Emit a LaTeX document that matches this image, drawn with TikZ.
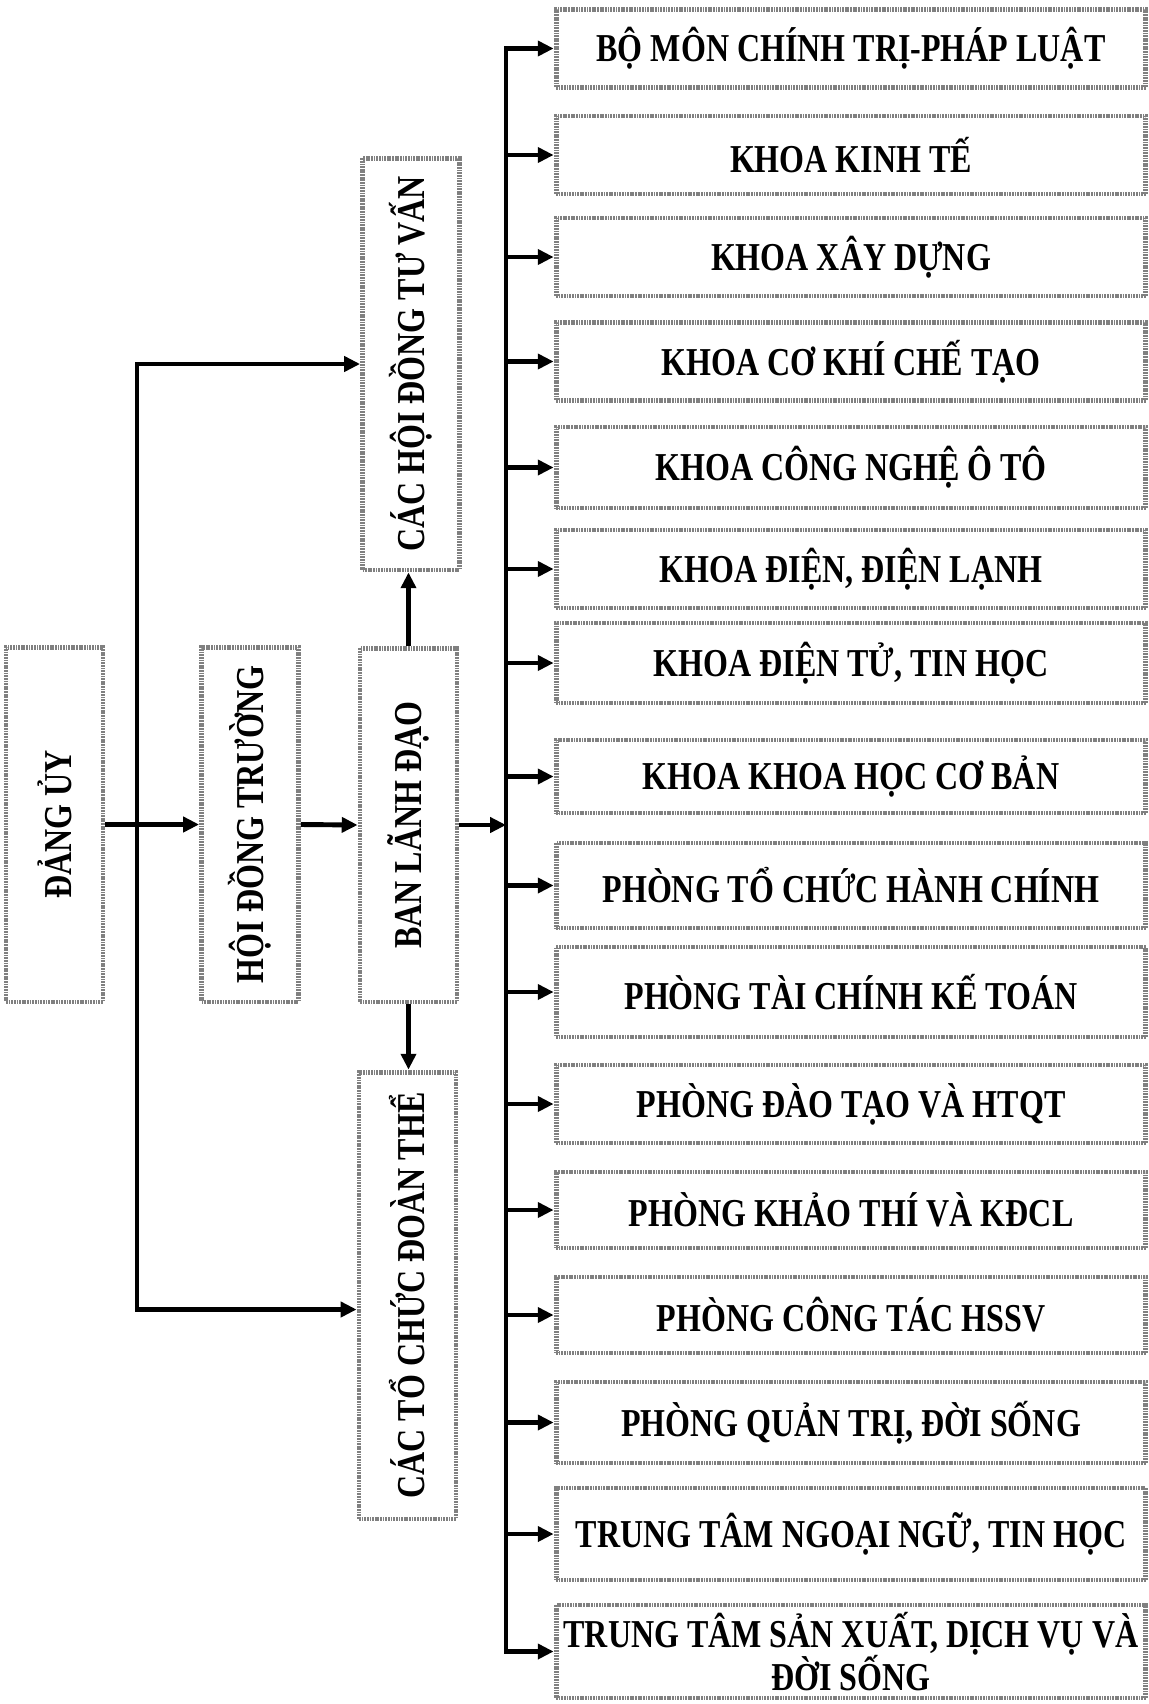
\documentclass[tikz,border=0pt]{standalone}
\usepackage{fontspec}
\setmainfont{Liberation Serif}[FakeStretch=0.81]
\usepackage{graphicx}
\usetikzlibrary{arrows.meta}

\tikzset{
  unit/.style={draw=black!50, line width=2.8pt, dash pattern=on 1pt off 0.5pt,
    inner sep=0pt, align=center, font=\bfseries\fontsize{22.5}{24.5}\selectfont},
  rowbox/.style={unit, minimum width=11.8cm, minimum height=1.56cm},
  colbox/.style={unit, minimum width=1.94cm},
  wire/.style={line width=2.8pt, line cap=rect},
  link/.style={line width=2.8pt, -{Triangle[length=9pt,width=8.5pt]}},
}

\begin{document}
\begin{tikzpicture}[x=0.02cm,y=-0.02cm]
\useasboundingbox (0,0) rectangle (1149,1704);

% left column
\node[colbox, minimum height=7.1cm] (dangUy) at (54.5,824.5) {\rotatebox{90}{ĐẢNG ỦY}};
\node[colbox, minimum height=7.1cm] (hdTruong) at (250,824.5) {\rotatebox{90}{HỘI ĐỒNG TRƯỜNG}};
\node[colbox, minimum height=7.08cm] (banLD) at (408.5,825) {\rotatebox{90}{BAN LÃNH ĐẠO}};
\node[colbox, minimum height=8.24cm] (hdTuVan) at (411,364) {\rotatebox{90}{CÁC HỘI ĐỒNG TƯ VẤN}};
\node[colbox, minimum height=8.94cm] (toChuc) at (407.5,1295.5) {\rotatebox{90}{CÁC TỔ CHỨC ĐOÀN THỂ}};

% units
\node[rowbox] (boMon) at (851,48.5) {BỘ MÔN CHÍNH TRỊ-PHÁP LUẬT};
\node[rowbox] (kinhTe) at (851,155) {KHOA KINH TẾ};
\node[rowbox] (xayDung) at (851,257) {KHOA XÂY DỰNG};
\node[rowbox] (coKhi) at (851,361.5) {KHOA CƠ KHÍ CHẾ TẠO};
\node[rowbox, minimum height=1.62cm] (oTo) at (851,467.5) {KHOA CÔNG NGHỆ Ô TÔ};
\node[rowbox] (dienLanh) at (851,569) {KHOA ĐIỆN, ĐIỆN LẠNH};
\node[rowbox, minimum height=1.6cm] (dienTu) at (851,663) {KHOA ĐIỆN TỬ, TIN HỌC};
\node[rowbox, minimum height=1.46cm] (coBan) at (851,776.5) {KHOA KHOA HỌC CƠ BẢN};
\node[rowbox, minimum height=1.7cm] (toChucHC) at (851,885.5) {PHÒNG TỔ CHỨC HÀNH CHÍNH};
\node[rowbox, minimum height=1.8cm] (taiChinh) at (851,992) {PHÒNG TÀI CHÍNH KẾ TOÁN};
\node[rowbox] (daoTao) at (851,1104) {PHÒNG ĐÀO TẠO VÀ HTQT};
\node[rowbox, minimum height=1.52cm] (khaoThi) at (851,1210) {PHÒNG KHẢO THÍ VÀ KĐCL};
\node[rowbox, minimum height=1.52cm] (congTac) at (851,1315) {PHÒNG CÔNG TÁC HSSV};
\node[rowbox, minimum height=1.62cm] (quanTri) at (851,1422.5) {PHÒNG QUẢN TRỊ, ĐỜI SỐNG};
\node[rowbox, minimum height=1.84cm] (ngoaiNgu) at (851,1534) {TRUNG TÂM NGOẠI NGỮ, TIN HỌC};
\node[rowbox, minimum height=1.86cm] (sanXuat) at (851,1651.5) {TRUNG TÂM SẢN XUẤT, DỊCH VỤ VÀ\\ĐỜI SỐNG};

\coordinate (bus) at (137,0);
\coordinate (trunk) at (506,0);

% main line
\draw[link] (dangUy.east) -- (hdTruong.west);
\draw[link] (hdTruong.east) -- (banLD.west);
\draw[link] (dangUy.east -| bus) |- (hdTuVan.west);
\draw[link] (dangUy.east -| bus) |- ([yshift=-0.28cm]toChuc.west);
\draw[link] (banLD.north) -- (banLD.north |- hdTuVan.south);
\draw[link] (banLD.south) -- (banLD.south |- toChuc.north);
\draw[link] (banLD.east) -- (banLD.east -| trunk);

% trunk to units
\draw[wire] (boMon.west -| trunk) -- (sanXuat.west -| trunk);
\draw[link] (boMon.west -| trunk) -- (boMon.west);
\draw[link] (kinhTe.west -| trunk) -- (kinhTe.west);
\draw[link] (xayDung.west -| trunk) -- (xayDung.west);
\draw[link] (coKhi.west -| trunk) -- (coKhi.west);
\draw[link] (oTo.west -| trunk) -- (oTo.west);
\draw[link] (dienLanh.west -| trunk) -- (dienLanh.west);
\draw[link] (dienTu.west -| trunk) -- (dienTu.west);
\draw[link] (coBan.west -| trunk) -- (coBan.west);
\draw[link] (toChucHC.west -| trunk) -- (toChucHC.west);
\draw[link] (taiChinh.west -| trunk) -- (taiChinh.west);
\draw[link] (daoTao.west -| trunk) -- (daoTao.west);
\draw[link] (khaoThi.west -| trunk) -- (khaoThi.west);
\draw[link] (congTac.west -| trunk) -- (congTac.west);
\draw[link] (quanTri.west -| trunk) -- (quanTri.west);
\draw[link] (ngoaiNgu.west -| trunk) -- (ngoaiNgu.west);
\draw[link] (sanXuat.west -| trunk) -- (sanXuat.west);
\end{tikzpicture}
\end{document}
